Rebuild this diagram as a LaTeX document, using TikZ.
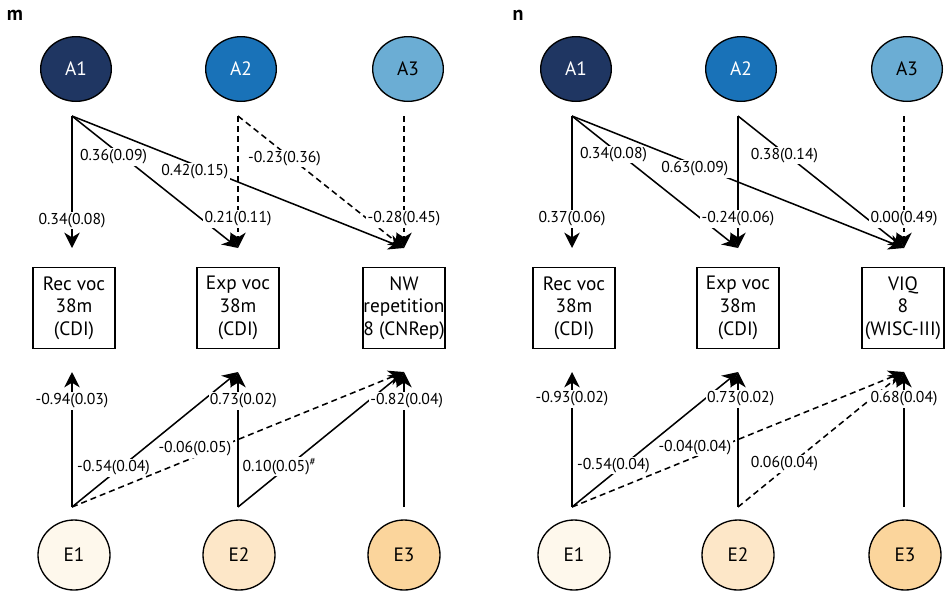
\documentclass[tikz,border=0pt]{standalone}
\usepackage{fontspec}
\setmainfont{PT Sans}
\definecolor{AOne}{RGB}{31,54,98}
\definecolor{ATwo}{RGB}{25,114,184}
\definecolor{AThree}{RGB}{107,173,212}
\definecolor{EOne}{RGB}{254,248,236}
\definecolor{ETwo}{RGB}{253,231,200}
\definecolor{EThree}{RGB}{251,213,156}
\usetikzlibrary{shapes.geometric,arrows.meta,positioning}
\tikzset{
  afactor/.style={ellipse, draw, line width=1pt, minimum width=53pt, minimum height=48.5pt, inner sep=0pt, font=\fontsize{14.5}{16}\selectfont},
  efactor/.style={ellipse, draw, line width=1pt, minimum width=54pt, minimum height=52.5pt, inner sep=0pt, font=\fontsize{14.5}{16}\selectfont},
  measure/.style={rectangle, draw, line width=1pt, minimum width=61.5pt, minimum height=60.5pt, align=center, inner sep=0pt, font=\fontsize{14.5}{17}\selectfont},
  coef/.style={fill=white, inner sep=1pt, font=\fontsize{11.8}{13}\selectfont},
  dashlink/.style={dash pattern=on 4.5pt off 3pt},
  panel/.style={font=\bfseries\fontsize{15}{17}\selectfont}
}

\begin{document}
\begin{tikzpicture}[x=0.75pt, y=-0.75pt, line width=1.15pt, >={Stealth[length=11.5pt,width=11.5pt,inset=3.5pt]}]
\useasboundingbox (0,0) rectangle (945,593);

% panel m
\node[panel] (mlab) at (15,15) {m};
\node[afactor, fill=AOne, text=white] (ma1) at (76,69) {A1};
\node[afactor, fill=ATwo, text=white] (ma2) at (241,69) {A2};
\node[afactor, fill=AThree] (ma3) at (408,69) {A3};
\node[measure] (mrec) at (74,308) {Rec voc\\38m\\(CDI)};
\node[measure] (mexp) at (238,308) {Exp voc\\38m\\(CDI)};
\node[measure] (mnw) at (404,308) {NW\\repetition\\8 (CNRep)};
\node[efactor, fill=EOne] (me1) at (74,555) {E1};
\node[efactor, fill=ETwo] (me2) at (239,555) {E2};
\node[efactor, fill=EThree] (me3) at (404,555) {E3};

\coordinate (ma1o) at (72,116);
\coordinate (ma2o) at (238,116);
\coordinate (ma3o) at (404,116);
\coordinate (mrecin) at (72,248);
\coordinate (mexpin) at (238,248);
\coordinate (mnwin) at (404,248);
\coordinate (mrecout) at (72,372);
\coordinate (mexpout) at (238,372);
\coordinate (mnwout) at (404,372);
\coordinate (me1o) at (72,507);
\coordinate (me2o) at (238,507);
\coordinate (me3o) at (404,507);

\draw[->] (ma1o) -- node[coef,pos=.79] {0.34(0.08)} (mrecin);
\draw[->] (ma1o) -- node[coef,pos=.25,yshift=-6pt] {0.36(0.09)} (mexpin);
\draw[->] (ma1o) -- node[coef,pos=.37,yshift=-5pt] {0.42(0.15)} (mnwin);
\draw[->,dashlink] (ma2o) -- node[coef,pos=.78] {0.21(0.11)} (mexpin);
\draw[->,dashlink] (ma2o) -- node[coef,pos=.28,yshift=-4pt] {-0.23(0.36)} (mnwin);
\draw[->,dashlink] (ma3o) -- node[coef,pos=.78] {-0.28(0.45)} (mnwin);

\draw[->] (me1o) -- node[coef,pos=.785] {-0.94(0.03)} (mrecout);
\draw[->] (me1o) -- node[coef,pos=.25,yshift=4pt] {-0.54(0.04)} (mexpout);
\draw[->,dashlink] (me1o) -- node[coef,pos=.37,yshift=6pt] {-0.06(0.05)} (mnwout);
\draw[->] (me2o) -- node[coef,pos=.785,xshift=4pt] {0.73(0.02)} (mexpout);
\draw[->] (me2o) -- node[coef,pos=.25,yshift=5pt] {0.10(0.05)\textsuperscript{\#}} (mnwout);
\draw[->] (me3o) -- node[coef,pos=.785,xshift=2pt] {-0.82(0.04)} (mnwout);

% panel n
\node[panel] (nlab) at (518,15) {n};
\node[afactor, fill=AOne, text=white] (na1) at (576,69) {A1};
\node[afactor, fill=ATwo, text=white] (na2) at (741,69) {A2};
\node[afactor, fill=AThree] (na3) at (907,69) {A3};
\node[measure] (nrec) at (574,308) {Rec voc\\38m\\(CDI)};
\node[measure] (nexp) at (738,308) {Exp voc\\38m\\(CDI)};
\node[measure] (nviq) at (903,308) {VIQ\\8\\(WISC-III)};
\node[efactor, fill=EOne] (ne1) at (574,555) {E1};
\node[efactor, fill=ETwo] (ne2) at (738,555) {E2};
\node[efactor, fill=EThree] (ne3) at (905,555) {E3};

\coordinate (na1o) at (572,116);
\coordinate (na2o) at (738,116);
\coordinate (na3o) at (904,116);
\coordinate (nrecin) at (572,248);
\coordinate (nexpin) at (738,248);
\coordinate (nviqin) at (904,248);
\coordinate (nrecout) at (572,372);
\coordinate (nexpout) at (738,372);
\coordinate (nviqout) at (904,372);
\coordinate (ne1o) at (572,507);
\coordinate (ne2o) at (738,507);
\coordinate (ne3o) at (904,507);

\draw[->] (na1o) -- node[coef,pos=.78] {0.37(0.06)} (nrecin);
\draw[->] (na1o) -- node[coef,pos=.25,yshift=-4pt] {0.34(0.08)} (nexpin);
\draw[->] (na1o) -- node[coef,pos=.37,yshift=-3pt] {0.63(0.09)} (nviqin);
\draw[->] (na2o) -- node[coef,pos=.78] {-0.24(0.06)} (nexpin);
\draw[->] (na2o) -- node[coef,pos=.28,yshift=-2pt] {0.38(0.14)} (nviqin);
\draw[->,dashlink] (na3o) -- node[coef,pos=.78] {0.00(0.49)} (nviqin);

\draw[->] (ne1o) -- node[coef,pos=.8] {-0.93(0.02)} (nrecout);
\draw[->] (ne1o) -- node[coef,pos=.25,yshift=6pt] {-0.54(0.04)} (nexpout);
\draw[->,dashlink] (ne1o) -- node[coef,pos=.37,yshift=7pt] {-0.04(0.04)} (nviqout);
\draw[->] (ne2o) -- node[coef,pos=.8,xshift=2pt] {0.73(0.02)} (nexpout);
\draw[->,dashlink] (ne2o) -- node[coef,pos=.28,yshift=4pt] {0.06(0.04)} (nviqout);
\draw[->] (ne3o) -- node[coef,pos=.8] {0.68(0.04)} (nviqout);
\end{tikzpicture}
\end{document}
